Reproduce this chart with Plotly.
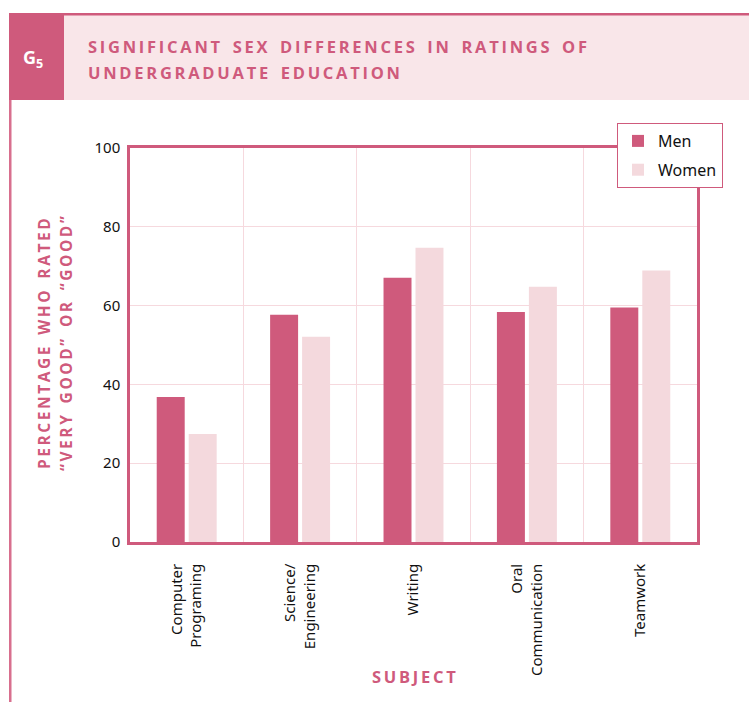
import plotly.graph_objects as go

# ---- data ----
categories = ["Computer<br>Programing", "Science/<br>Engineering", "Writing",
              "Oral<br>Communication", "Teamwork"]
men = [36.8, 57.7, 67.1, 58.4, 59.5]
women = [27.4, 52.1, 74.7, 64.8, 68.9]
series_names = ["Men", "Women"]
y_ticks = [0, 20, 40, 60, 80, 100]

title_lines = ["SIGNIFICANT SEX DIFFERENCES IN RATINGS OF", "UNDERGRADUATE EDUCATION"]
ytitle_lines = ["PERCENTAGE WHO RATED", "\u201cVERY GOOD\u201d OR \u201cGOOD\u201d"]
xtitle = "SUBJECT"
badge = "G<sub>5</sub>"

# ---- style ----
W, H = 749, 702
PL, PR, PT, PB = 130, 697, 148, 542
DARK = "#cf5a7c"
LIGHT_BAR = "#f4d9dd"
BAND = "#f9e6e9"
GRID = "#f6d9de"
TXT = "#111111"
HEAD_FONT = "Open Sans"
BODY_FONT = "Noto Sans"


def spaced(s):
    out = []
    for i, ch in enumerate(s):
        out.append(ch)
        if i < len(s) - 1:
            out.append("\u2009" if ch != " " else "\u2009\u2009")
    return "".join(out)


def px(x):
    return (x - PL) / (PR - PL)


def py(y):
    return (PB - y) / (PB - PT)


fig = go.Figure()
fig.add_trace(go.Bar(x=categories, y=men, name=series_names[0], marker_color=DARK,
                     marker_line_width=0, legendgroup="m"))
fig.add_trace(go.Bar(x=categories, y=women, name=series_names[1], marker_color=LIGHT_BAR,
                     marker_line_width=0, legendgroup="w"))

shapes = [
    # header band
    dict(type="rect", xref="paper", yref="paper", x0=px(64), x1=px(749), y0=py(15), y1=py(100),
         fillcolor=BAND, line_width=0, layer="below"),
    dict(type="rect", xref="paper", yref="paper", x0=px(9), x1=px(64), y0=py(13), y1=py(100),
         fillcolor=DARK, line_width=0, layer="below"),
    dict(type="rect", xref="paper", yref="paper", x0=px(9), x1=px(749), y0=py(13), y1=py(15.5),
         fillcolor=DARK, line_width=0, layer="below"),
    # left rule
    dict(type="rect", xref="paper", yref="paper", x0=px(9), x1=px(11.5), y0=py(100), y1=py(702),
         fillcolor="#d86f8e", line_width=0, layer="below"),
]

head_font = dict(family=HEAD_FONT, size=16.5, color=DARK, weight="bold")
ytitle_font = dict(family=HEAD_FONT, size=15.5, color=DARK, weight="bold")
annotations = [
    dict(text=spaced(title_lines[0]), x=px(86), y=py(46), xref="paper", yref="paper",
         xanchor="left", yanchor="middle", showarrow=False, font=head_font),
    dict(text=spaced(title_lines[1]), x=px(86), y=py(72), xref="paper", yref="paper",
         xanchor="left", yanchor="middle", showarrow=False, font=head_font),
    dict(text=badge, x=px(21), y=py(58), xref="paper", yref="paper",
         xanchor="left", yanchor="middle", showarrow=False,
         font=dict(family=HEAD_FONT, size=18, color="white", weight="bold")),
    dict(text=spaced(ytitle_lines[0]), x=px(44), y=py(344), xref="paper", yref="paper",
         xanchor="center", yanchor="middle", showarrow=False, textangle=-90, font=ytitle_font),
    dict(text=spaced(ytitle_lines[1]), x=px(66), y=py(344), xref="paper", yref="paper",
         xanchor="center", yanchor="middle", showarrow=False, textangle=-90, font=ytitle_font),
    dict(text=spaced(xtitle), x=0.5, y=py(676), xref="paper", yref="paper",
         xanchor="center", yanchor="middle", showarrow=False, font=head_font),
]

fig.update_layout(
    width=W, height=H,
    margin=dict(l=PL, r=W - PR, t=PT, b=H - PB, pad=0),
    paper_bgcolor="white", plot_bgcolor="white",
    barmode="group", bargap=0.436, bargroupgap=0.125,
    shapes=shapes, annotations=annotations,
    font=dict(family=BODY_FONT, size=15, color=TXT),
    showlegend=True,
    legend=dict(x=px(617), y=py(123), xanchor="left", yanchor="top",
                bgcolor="white", bordercolor=DARK, borderwidth=1,
                font=dict(family=BODY_FONT, size=16, color=TXT),
                tracegroupgap=5, itemwidth=30),
)

fig.update_xaxes(type="category", tickson="boundaries", showgrid=True, gridcolor=GRID,
                 gridwidth=1, showline=True, mirror=True, linecolor=DARK, linewidth=2.5,
                 ticks="", tickangle=-90, ticklabelstandoff=13,
                 tickfont=dict(family=BODY_FONT, size=15, color=TXT))
fig.update_yaxes(range=[0, 100], tickvals=y_ticks, showgrid=True, gridcolor=GRID,
                 gridwidth=1, zeroline=False, showline=True, mirror=True, linecolor=DARK,
                 linewidth=2.5, ticks="", ticklabelstandoff=4,
                 tickfont=dict(family=BODY_FONT, size=15, color=TXT))

fig.write_html("out.html")
